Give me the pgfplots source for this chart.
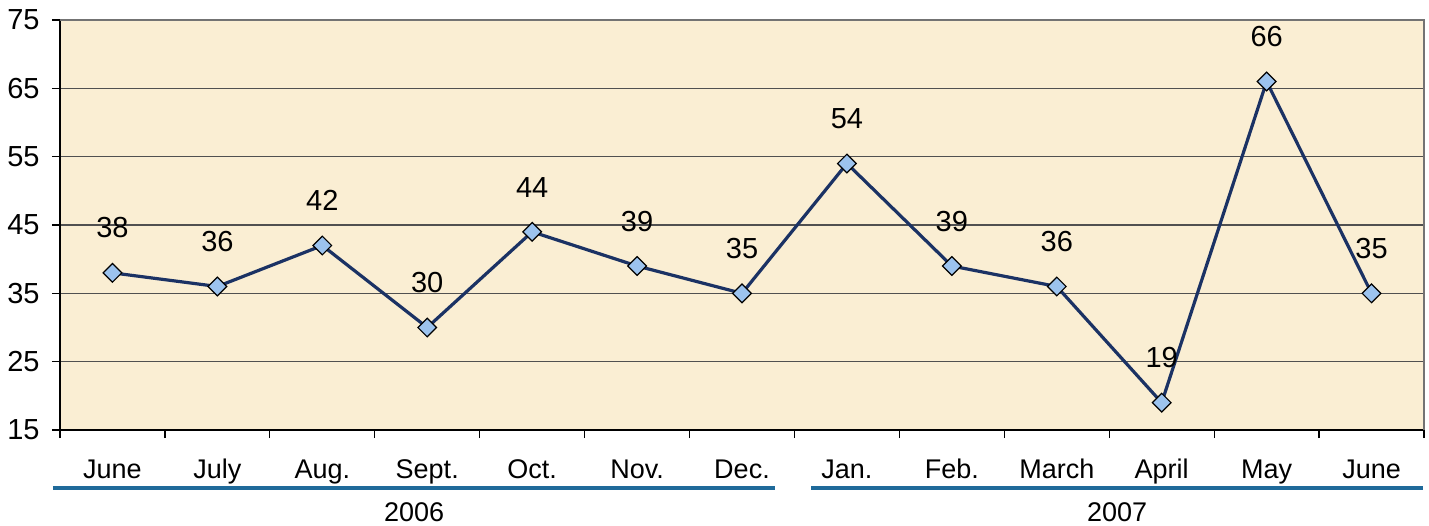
\documentclass[border=0pt]{standalone}
\usepackage{pgfplots}
\pgfplotsset{compat=1.18}
\usepackage{fontspec}
\setmainfont{Liberation Sans}
\definecolor{bgc}{HTML}{FAEED3}
\definecolor{navy}{HTML}{1B3264}
\definecolor{mk}{HTML}{9CC3EE}
\definecolor{grp}{HTML}{1F6A9A}
\definecolor{grd}{HTML}{505050}
\begin{document}
\begin{tikzpicture}
\useasboundingbox (-30pt,-47.5pt) rectangle (684.5pt,215pt);
\begin{axis}[
  at={(0,0)}, anchor=south west,
  scale only axis, width=682pt, height=205pt,
  xmin=-0.5, xmax=12.5, ymin=15, ymax=75,
  ytick={15,25,...,75},
  xtick={0,...,12},
  xticklabels={June,July,Aug.,Sept.,Oct.,Nov.,Dec.,Jan.,Feb.,March,April,May,June},
  minor xtick={-0.5,0.5,...,12.5},
  major x tick style={draw=none},
  minor tick length=4pt, major tick length=4pt,
  tick align=outside,
  axis x line*=bottom, axis y line*=left,
  axis line style={-, black, line width=0.8pt},
  tick style={black, line width=0.6pt},
  ymajorgrids, grid style={grd, line width=0.6pt},
  axis background/.style={fill=bgc},
  /pgf/number format/assume math mode=true,
  yticklabel style={font=\fontsize{14.5}{16}\selectfont, inner sep=0pt, xshift=-6pt},
  xticklabel style={font=\fontsize{13.5}{15}\selectfont, anchor=base, inner sep=0pt, yshift=-20pt},
  clip=false,
  nodes near coords,
  every node near coord/.append style={font=\fontsize{14.5}{16}\selectfont, anchor=south, inner sep=0pt, yshift=17pt, black},
]
\draw[gray!90!black, line width=1pt] (rel axis cs:0,1) -- (rel axis cs:1,1) -- (rel axis cs:1,0);
\addplot[navy, line width=1.6pt, mark=square*, mark size=3.3pt,
  mark options={rotate=45, fill=mk, draw=black, line width=0.6pt}]
  coordinates {(0,38) (1,36) (2,42) (3,30) (4,44) (5,39) (6,35) (7,54) (8,39) (9,36) (10,19) (11,66) (12,35)};
\draw[grp, line width=2pt] (axis cs:-0.567,6.5) -- (axis cs:6.316,6.5);
\draw[grp, line width=2pt] (axis cs:6.659,6.5) -- (axis cs:12.493,6.5);
\node[font=\fontsize{13.5}{15}\selectfont, anchor=base] at ([yshift=-45.5pt]axis cs:2.875,15) {2006};
\node[font=\fontsize{13.5}{15}\selectfont, anchor=base] at ([yshift=-45.5pt]axis cs:9.576,15) {2007};
\end{axis}
\end{tikzpicture}
\end{document}
